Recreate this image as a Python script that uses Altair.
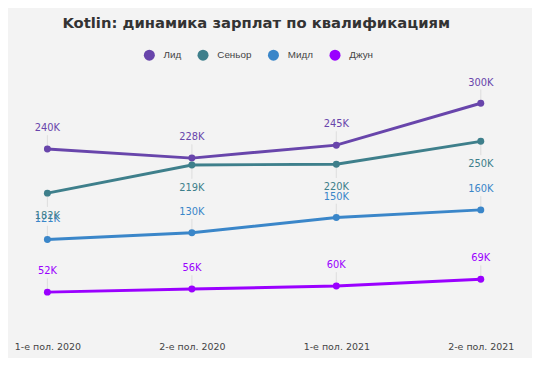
import altair as alt
import pandas as pd

periods = ["1-е пол. 2020", "2-е пол. 2020", "1-е пол. 2021", "2-е пол. 2021"]
series = ["Лид", "Сеньор", "Мидл", "Джун"]
lead = [240, 228, 245, 300]
senior = [182, 219, 220, 250]
middle = [121, 130, 150, 160]
junior = [52, 56, 60, 69]
colors = ["#6845ab", "#3e7f8b", "#3a86c9", "#9a00ff"]

rows = []
for name, vals in zip(series, [lead, senior, middle, junior]):
    for p, v in zip(periods, vals):
        rows.append({"period": p, "series": name, "value": v, "label": f"{v}K"})
df = pd.DataFrame(rows)

x = alt.X("period:N", sort=periods, scale=alt.Scale(type="point", padding=0),
          axis=alt.Axis(title=None, labelAngle=0, domain=False, ticks=False, grid=False,
                        labelFontSize=9.6, labelColor="#444", labelPadding=10,
                        labelFont="DejaVu Sans"))
y = alt.Y("value:Q", scale=alt.Scale(domain=[0, 335], nice=False),
          axis=None)
color = alt.Color("series:N", sort=series,
                  scale=alt.Scale(domain=series, range=colors),
                  legend=alt.Legend(title=None, orient="none", direction="horizontal",
                                    legendX=97.5, legendY=-28, symbolType="circle",
                                    symbolSize=125, symbolStrokeWidth=0,
                                    labelFontSize=10, labelColor="#444",
                                    labelFont="Liberation Sans", columnPadding=15.5,
                                    labelOffset=8.5))

base = alt.Chart(df)

is_senior = alt.datum.series == "Сеньор"
not_senior = alt.datum.series != "Сеньор"
label_color = alt.Color("series:N", scale=alt.Scale(domain=series, range=colors), legend=None)

lead_up = base.transform_filter(not_senior).mark_rule(
    color="#dcdcdc", strokeWidth=1, y2Offset=-14
).encode(x=x, y=y, y2=alt.Y2("value:Q"))
lead_down = base.transform_filter(is_senior).mark_rule(
    color="#dcdcdc", strokeWidth=1, y2Offset=14
).encode(x=x, y=y, y2=alt.Y2("value:Q"))

lines = base.mark_line(strokeWidth=3).encode(x=x, y=y, color=color)
points = base.mark_circle(size=50, opacity=1).encode(x=x, y=y, color=color)

text_up = base.transform_filter(not_senior).mark_text(
    dy=-21, fontSize=10, font="DejaVu Sans"
).encode(x=x, y=y, text="label:N", color=label_color)
text_down = base.transform_filter(is_senior).mark_text(
    dy=23, fontSize=10, font="DejaVu Sans"
).encode(x=x, y=y, text="label:N", color=label_color)

chart = alt.layer(lead_up, lead_down, lines, points, text_up, text_down).properties(
    width=440, height=259,
    autosize=alt.AutoSizeParams(type="none"),
    padding={"left": 40, "top": 67, "right": 52, "bottom": 24},
    background="#f3f3f3",
    title=alt.TitleParams("Kotlin: динамика зарплат по квалификациям",
                          fontSize=15, font="DejaVu Sans", fontWeight="bold",
                          color="#333", anchor="middle", dx=-8, offset=18),
).configure_view(stroke=None)

chart.save("out.html", embed_options={"renderer": "svg", "actions": False})
